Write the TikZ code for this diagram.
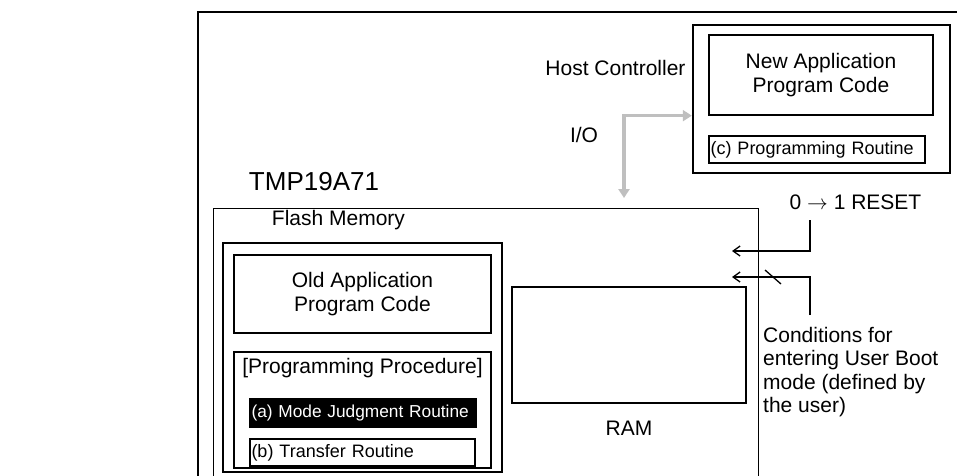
\documentclass[tikz,border=0pt]{standalone}
\usepackage{fontspec}
\setmainfont{Liberation Sans}
\usetikzlibrary{
    arrows.meta,
    positioning,
    calc
}

\begin{document}
\begin{tikzpicture}[
    x=1pt, y=-1pt,
    every node/.style={font=\fontsize{21}{23.5}\selectfont},
    outerBox/.style={
        rectangle, draw=black, line width=2pt, inner sep=0pt
    },
    thickBox/.style={
        rectangle, draw=black, line width=2.4pt, inner sep=0pt
    },
    thinBox/.style={
        rectangle, draw=black, line width=1.3pt,
        align=center, inner sep=0pt
    },
    rtnBox/.style={
        thinBox, font=\fontsize{18}{20}\selectfont,
        align=left, inner xsep=1.5pt, minimum height=27pt
    },
    modeBox/.style={
        rtnBox, font=\fontsize{17.3}{19}\selectfont,
        fill=black, text=white
    },
    ioArrow/.style={
        {Triangle[length=9pt, width=11pt]}-{Triangle[length=9pt, width=11pt]},
        line width=3.5pt, draw=black!25
    },
    sigArrow/.style={
        -{Straight Barb[length=7pt, width=10pt]}, line width=1.3pt
    },
    plainLbl/.style={inner sep=0pt}
]

    % Canvas
    \clip (0,0) rectangle (957,475);

    % Board and host side
    \node[outerBox, anchor=north west, minimum width=800pt, minimum height=520pt] (boardBox) at (197,11) {};
    \node[thickBox, minimum width=257pt, minimum height=148pt] (hostBox) at (821.5,99) {};
    \node[thinBox, minimum width=224pt, minimum height=80pt] (newCode) at (821,75) {New Application\\Program Code};
    \node[rtnBox, text width=213pt] (progRtn) at (817,149.5) {(c) Programming Routine};
    \node[plainLbl] (hostLbl) at (615.5,68) {Host Controller};
    \node[plainLbl] (ioLbl) at (584,135) {I/O};

    % Chip
    \node[plainLbl, font=\fontsize{26}{28}\selectfont] (chipLbl) at (314,182) {TMP19A71};
    \node[thinBox, anchor=north west, minimum width=545pt, minimum height=320pt] (chipBox) at (213,208) {};
    \node[plainLbl] (flashLbl) at (338.5,220) {Flash Memory};

    % Flash memory contents
    \node[thickBox, minimum width=279pt, minimum height=229pt] (flashBox) at (362.5,357.5) {};
    \node[thinBox, minimum width=257pt, minimum height=78pt] (oldCode) at (362.5,294) {Old Application\\Program Code};
    \node[thinBox, minimum width=257pt, minimum height=116pt] (procBox) at (362.5,410) {};
    \node[plainLbl] (procLbl) at (362.5,368) {[Programming Procedure]};
    \node[modeBox, text width=223pt, minimum height=28pt] (modeRtn) at (363,413) {(a) Mode Judgment Routine};
    \node[rtnBox, text width=222pt] (xferRtn) at (362.5,452.5) {(b) Transfer Routine};

    % RAM
    \node[thinBox, minimum width=234pt, minimum height=116pt] (ramBox) at (629,345) {};
    \node[plainLbl] (ramLbl) at (629,428) {RAM};

    % I/O link
    \coordinate (ioDown) at (624,198);
    \draw[ioArrow] (ioDown) |- (newCode.south -| hostBox.west);

    % Reset and boot conditions
    \node[plainLbl] (resetLbl) at (855.5,202) {0 $\rightarrow$ 1 RESET};
    \coordinate (resetSrc) at (810,220);
    \coordinate (resetIn) at (732,251);
    \draw[sigArrow] (resetSrc) |- (resetIn);

    \node[plainLbl, anchor=north west, align=left] (condLbl) at (763,327) {Conditions for\\entering User Boot\\mode (defined by\\the user)};
    \coordinate (condSrc) at (810,315);
    \coordinate (condIn) at (732,277);
    \draw[sigArrow] (condSrc) |- (condIn);
    \draw[line width=1.3pt] (765,270) -- (781,284);

\end{tikzpicture}
\end{document}
